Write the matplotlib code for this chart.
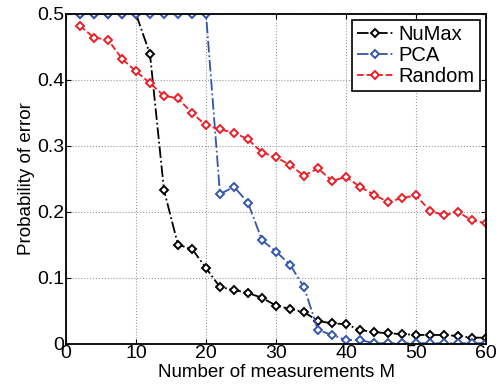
import matplotlib
matplotlib.use("Agg")
from matplotlib import pyplot as plt

plt.rcParams['font.family'] = ['Liberation Sans', 'DejaVu Sans']

M = list(range(2, 61, 2))

numax = [0.5, 0.5, 0.5, 0.5, 0.5, 0.439, 0.233, 0.150, 0.144, 0.115,
         0.086, 0.082, 0.077, 0.070, 0.058, 0.053, 0.048, 0.035, 0.031, 0.030,
         0.021, 0.018, 0.016, 0.015, 0.0136, 0.0136, 0.0136, 0.012, 0.0095, 0.0095]

pca = [0.5, 0.5, 0.5, 0.5, 0.5, 0.5, 0.5, 0.5, 0.5, 0.5,
       0.227, 0.238, 0.214, 0.157, 0.140, 0.120, 0.086, 0.021, 0.0136, 0.006,
       0.006, 0.001, 0.001, 0.001, 0.001, 0.001, 0.001, 0.001, 0.001, 0.001]

rand = [0.482, 0.464, 0.461, 0.432, 0.413, 0.395, 0.376, 0.372, 0.350, 0.331,
        0.325, 0.320, 0.310, 0.290, 0.283, 0.271, 0.255, 0.266, 0.247, 0.253,
        0.238, 0.226, 0.215, 0.221, 0.225, 0.2015, 0.195, 0.200, 0.187, 0.183]

fig = plt.figure(figsize=(4.98, 3.86), dpi=100)
ax = fig.add_axes([0.1325, 0.109, 0.8435, 0.855])

style = dict(marker='D', markersize=3.8, markerfacecolor='white',
             markeredgewidth=1.4, linewidth=1.3)
ax.plot(M, numax, color='black', linestyle='-.', label='NuMax', **style)
ax.plot(M, pca, color='#3355b0', linestyle='-.', label='PCA', **style)
ax.plot(M, rand, color='#ee1c25', linestyle='--', label='Random', **style)

ax.set_xlim(0, 60)
ax.set_ylim(0, 0.5)
ax.set_xticks(range(0, 61, 10))
ax.set_yticks([0, 0.1, 0.2, 0.3, 0.4, 0.5])
ax.set_yticklabels(['0', '0.1', '0.2', '0.3', '0.4', '0.5'])
ax.grid(True, linestyle=':', color='#999999', linewidth=0.8)
ax.tick_params(direction='in', labelsize=14, top=True, right=True, pad=1)
for s in ax.spines.values():
    s.set_linewidth(1.3)

ax.set_xlabel('Number of measurements M', fontsize=13.5, labelpad=1)
ax.set_ylabel('Probability of error', fontsize=13.5, labelpad=2)

leg = ax.legend(loc='upper right', fontsize=14.5, fancybox=False, framealpha=1,
                edgecolor='black', handlelength=1.8, borderaxespad=0.3,
                labelspacing=0.1, handletextpad=0.3, borderpad=0.25)
leg.get_frame().set_linewidth(1.2)

fig.savefig('out.png', dpi=100)
